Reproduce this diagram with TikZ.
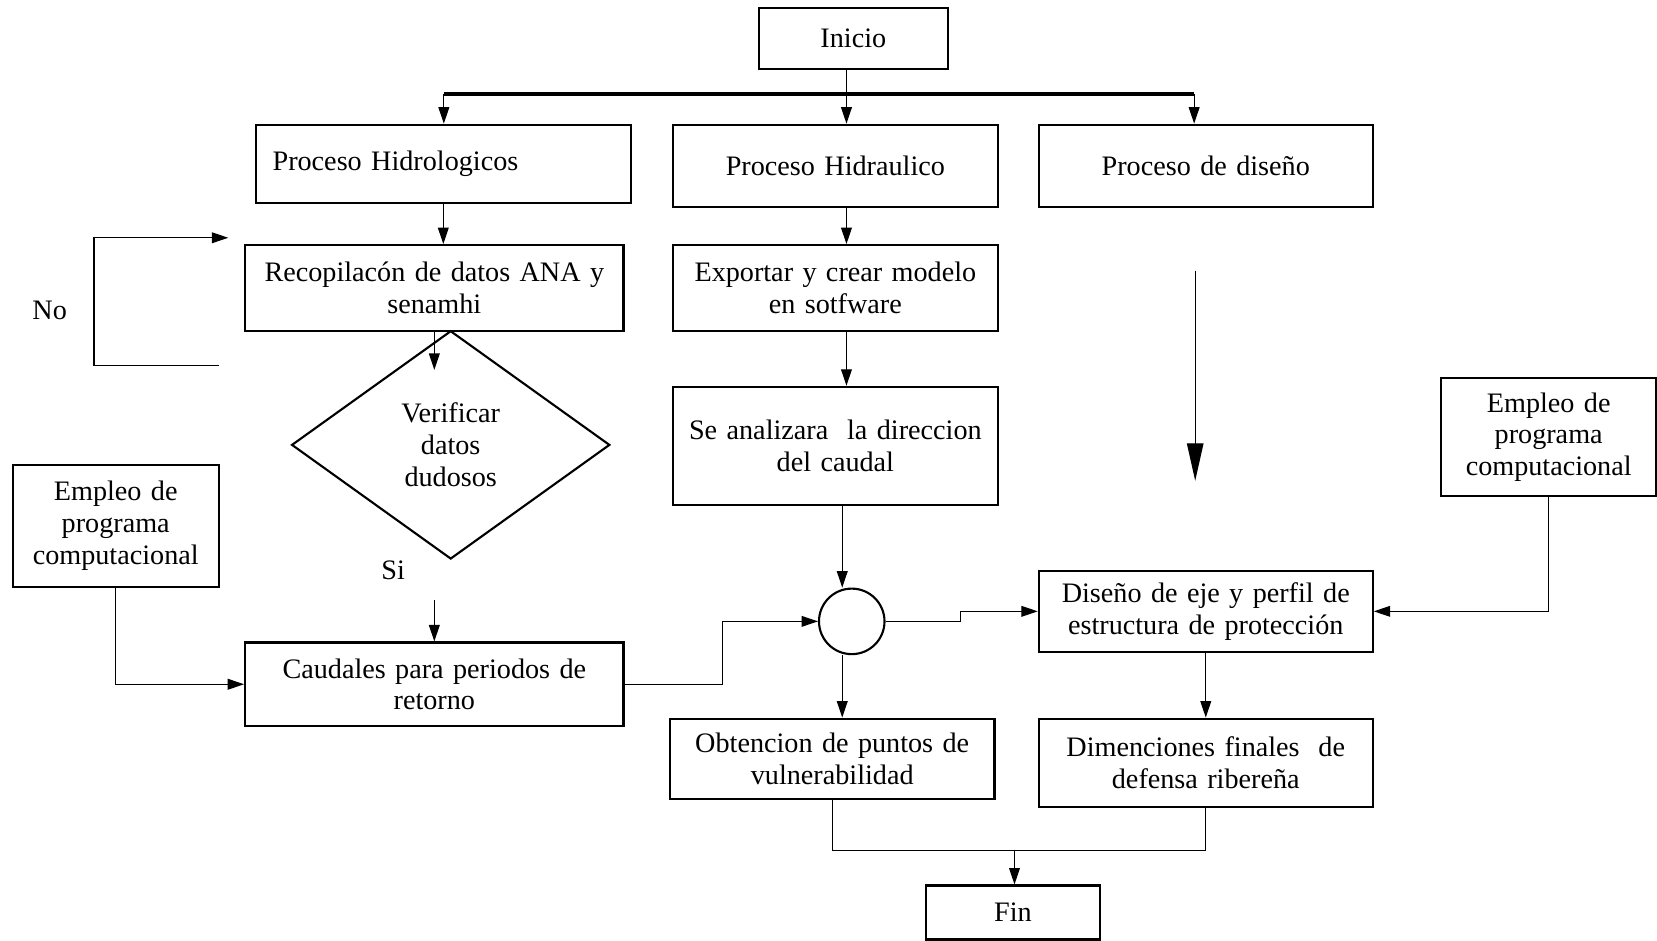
\documentclass[tikz,border=0pt]{standalone}
\usepackage{fontspec}
\setmainfont{Liberation Serif}
\usetikzlibrary{arrows.meta,shapes.geometric}
\begin{document}
\begin{tikzpicture}[
  x=0.45pt, y=-0.45pt,
  font=\fontsize{12}{13.5}\selectfont,
  caja/.style={draw, line width=0.9pt, align=center, inner sep=0pt},
  flecha/.style={-{Triangle[length=7pt,width=4.6pt]}, line width=0.5pt},
  linea/.style={line width=0.5pt}
]
\useasboundingbox[fill=white] (0,0) rectangle (1568,890);

\node[caja, text width=80.6pt, minimum height=25.7pt] (inicio) at (807.5,36.5) {Inicio};
\node[caja, text width=145.4pt, inner xsep=7.2pt, align=left, minimum height=33.3pt] (hidro) at (419.5,155) {Proceso Hidrologicos};
\node[caja, text width=138.2pt, minimum height=35.1pt] (hidra) at (790.5,157) {Proceso Hidraulico};
\node[caja, text width=142.2pt, minimum height=35.1pt] (diseno) at (1141,157) {Proceso de diseño};
\node[caja, text width=161.1pt, minimum height=36.5pt] (recop) at (411,272.5) {Recopilacón de datos ANA y\\ senamhi};
\node[caja, text width=138.2pt, minimum height=36.5pt] (export) at (790.5,272.5) {Exportar y crear modelo\\ en sotfware};
\node[caja, text width=138.2pt, minimum height=50.4pt] (analiza) at (790.5,422) {Se analizara\ \ la direccion\\ del caudal};
\node[draw, diamond, line width=0.9pt, minimum width=135.5pt, minimum height=97.2pt, inner sep=0pt, align=center] (verif) at (426.5,421) {Verificar\\ datos\\ dudosos};
\node[caja, text width=87.8pt, minimum height=51.8pt] (empL) at (109.5,497.5) {Empleo de\\ programa\\ computacional};
\node[caja, text width=91.4pt, minimum height=50pt] (empR) at (1465.5,413.5) {Empleo de\\ programa\\ computacional};
\node[caja, text width=161.1pt, minimum height=35.6pt] (caud) at (411,647.5) {Caudales para periodos de\\ retorno};
\node[draw, circle, line width=0.9pt, minimum size=27.9pt, inner sep=0pt] (circ) at (806,588) {};
\node[caja, text width=142.2pt, minimum height=34.7pt] (disenoE) at (1141,578.5) {Diseño de eje y perfil de\\ estructura de protección};
\node[caja, text width=138.2pt, minimum height=34.2pt] (obten) at (787.5,718) {Obtencion de puntos de\\ vulnerabilidad};
\node[caja, text width=142.2pt, minimum height=37.8pt] (dimen) at (1141,722) {Dimenciones finales\ \ de\\ defensa ribereña};
\node[caja, text width=74.3pt, minimum height=23pt] (fin) at (958.5,863.5) {Fin};
\node (no) at (47,294) {No};
\node (si) at (372,540) {Si};

\coordinate (busL) at (420,89);
\coordinate (busM) at (801,89);
\coordinate (busR) at (1130,89);
\coordinate (colM) at (797,0);
\coordinate (dtop) at (411,350);
\coordinate (noA) at (207,346);
\coordinate (noB) at (216,225);
\coordinate (siA) at (411,568);
\coordinate (junta) at (960,805);
\coordinate (gA) at (1131,256);
\coordinate (gB) at (1131,455);

\draw[line width=1.6pt] (busL) -- (busR);
\draw[linea] (busM |- inicio.south) -- (busM);
\draw[flecha] (busL) -- (busL |- hidro.north);
\draw[flecha] (busM) -- (busM |- hidra.north);
\draw[flecha] (busR) -- (busR |- diseno.north);
\draw[flecha] (hidro.south) -- (hidro.south |- recop.north);
\draw[flecha] (busM |- hidra.south) -- (busM |- export.north);
\draw[flecha] (busM |- export.south) -- (busM |- analiza.north);
\draw[flecha] (recop.south) -- (dtop);
\draw[flecha] (noA) -- ++(-118,0) |- (noB);
\draw[flecha] (siA) -- (caud.north);
\draw[flecha] (empL.south) |- (caud.west);
\draw[flecha] (caud.east) -- ++(93,0) |- (circ.west);
\draw[flecha] (colM |- analiza.south) -- (colM |- circ.north);
\draw[flecha] (colM |- circ.south) -- (colM |- obten.north);
\draw[flecha] (circ.east) -- ++(71,0) |- (disenoE.west);
\draw[flecha] (empR.south) |- (disenoE.east);
\draw[flecha] (disenoE.south) -- (dimen.north);
\draw[linea] (obten.south) |- (junta) -| (dimen.south);
\draw[flecha] (junta) -- (junta |- fin.north);
\draw[-{Triangle[length=16pt,width=7pt]}, line width=0.6pt] (gA) -- (gB);
\end{tikzpicture}
\end{document}
